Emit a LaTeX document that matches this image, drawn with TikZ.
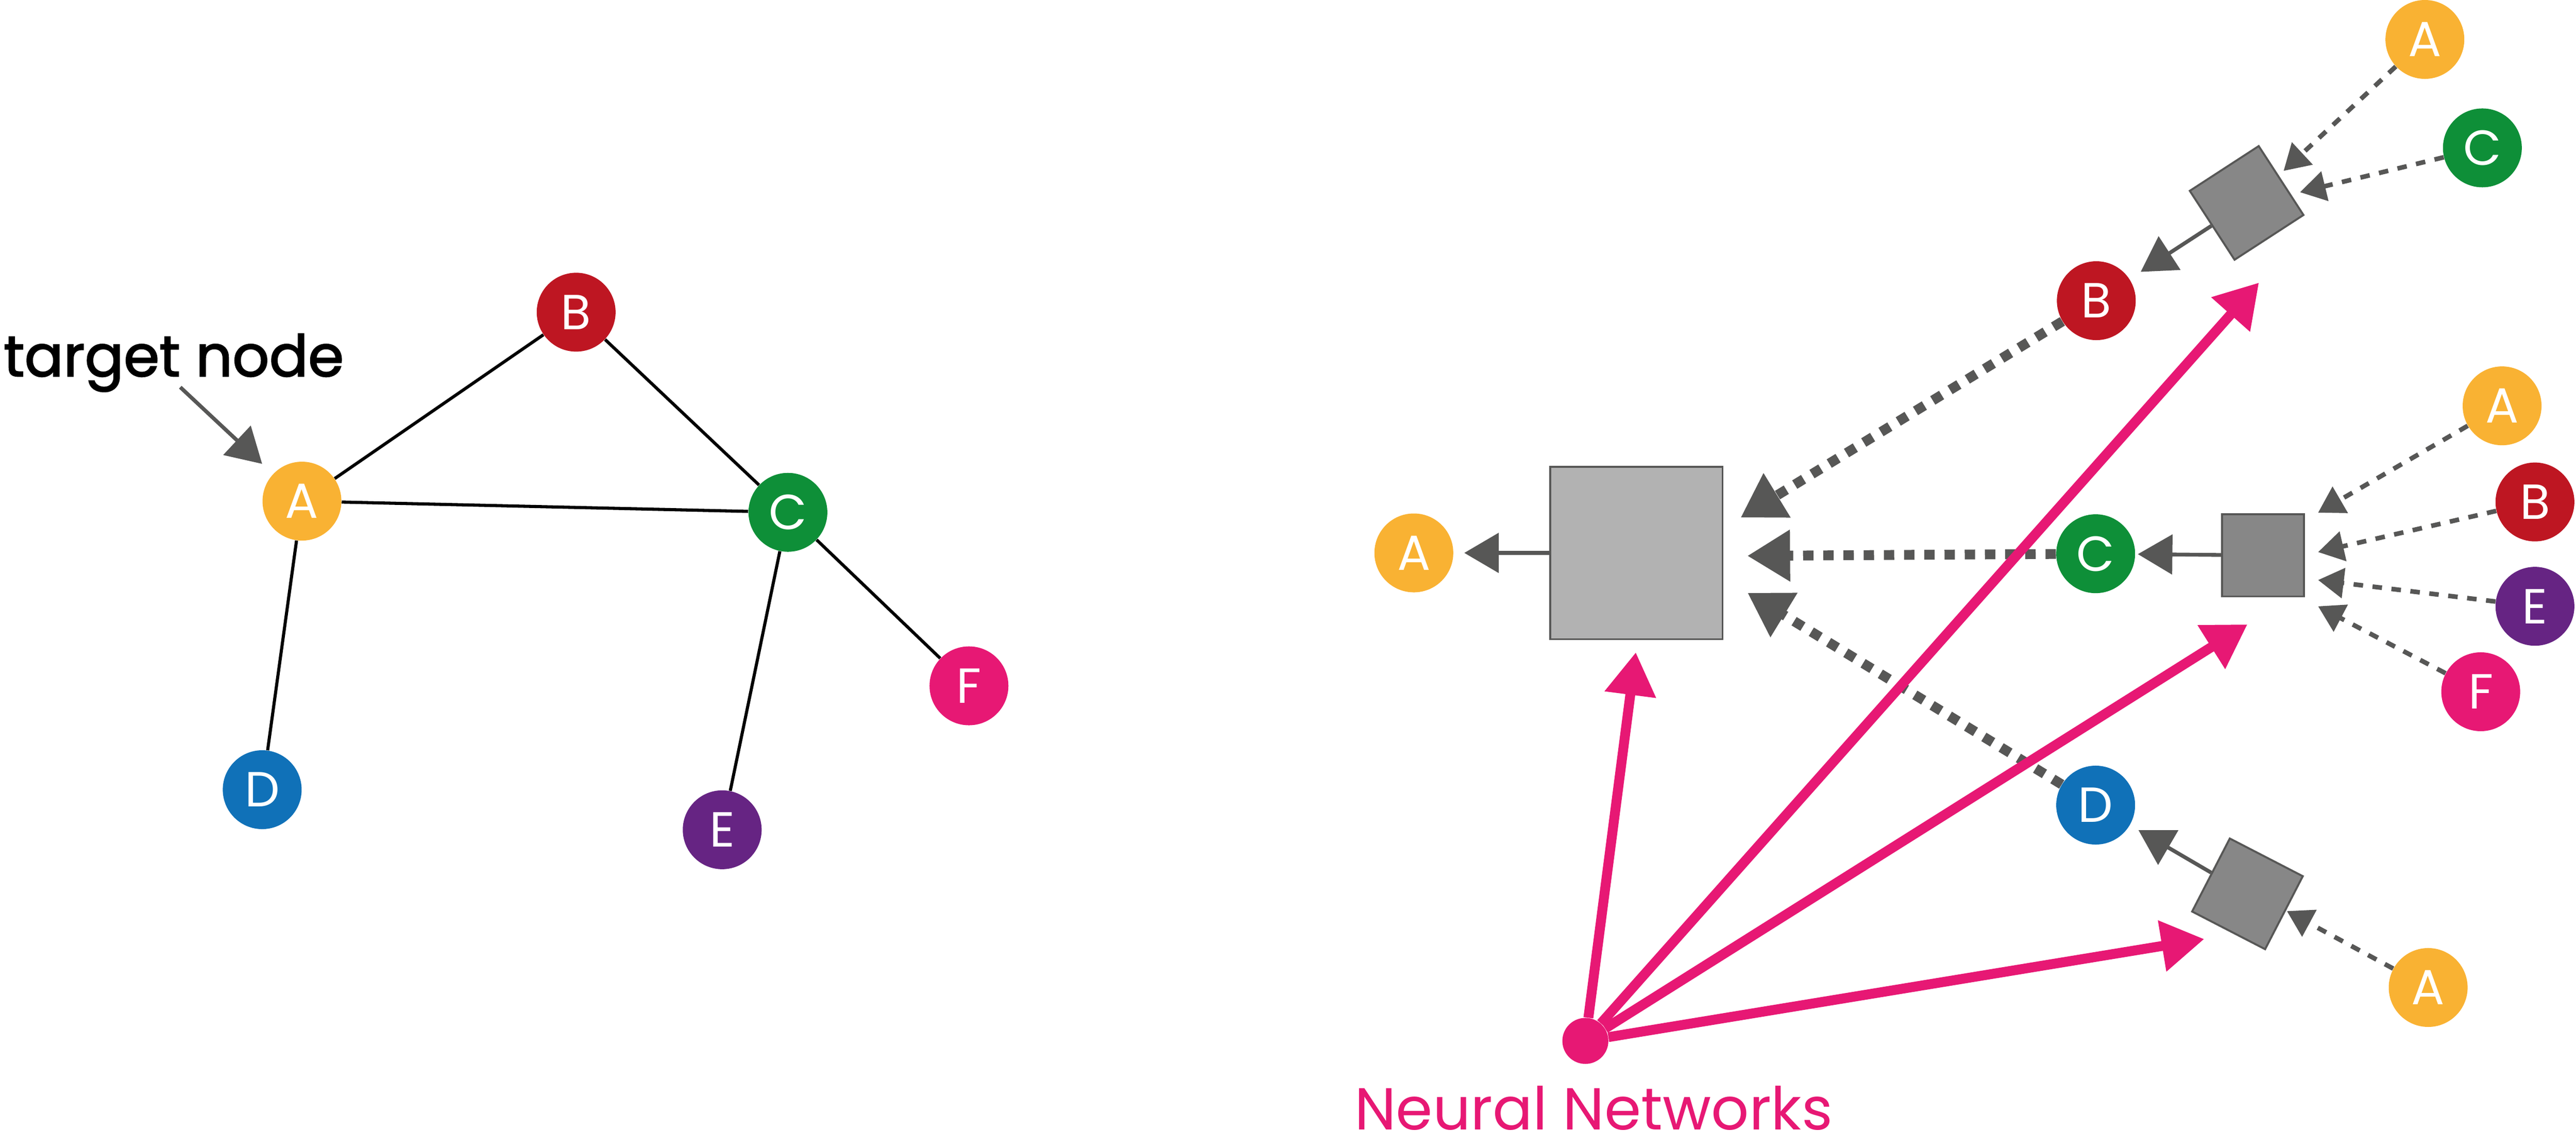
\documentclass[tikz,border=0pt]{standalone}
\usepackage{fontspec}
\setmainfont{Poppins}
\newfontfamily\heavyfont[FakeBold=2]{Poppins}
\usetikzlibrary{calc}
\usetikzlibrary{arrows.meta}

\definecolor{nodeA}{HTML}{F9B233}
\definecolor{nodeB}{HTML}{BE1622}
\definecolor{nodeC}{HTML}{0E8F38}
\definecolor{nodeD}{HTML}{1071B8}
\definecolor{nodeE}{HTML}{662483}
\definecolor{nnpink}{HTML}{E71874}
\definecolor{msggray}{HTML}{575756}
\definecolor{bigfill}{HTML}{B2B2B2}
\definecolor{smallfill}{HTML}{878787}

\begin{document}
\begin{tikzpicture}[x=1pt, y=-1pt, >={Triangle[length=21pt, width=24pt]}]
\tikzstyle{vertex}=[circle, inner sep=0pt, minimum size=48pt, text=white, font=\fontsize{30}{30}\selectfont]
\tikzstyle{aggbig}=[draw=msggray, fill=bigfill, line width=1.2pt, minimum size=105pt, inner sep=0pt]
\tikzstyle{aggsmall}=[draw=msggray, fill=smallfill, line width=1.2pt, minimum size=50pt, inner sep=0pt]
\tikzstyle{msg}=[line width=2.3pt, color=msggray, ->]
\tikzstyle{thickmsg}=[line width=6pt, color=msggray, dash pattern=on 6.3pt off 6pt, -{Triangle[length=26pt, width=30pt]}]
\tikzstyle{thinmsg}=[line width=2.8pt, color=msggray, dash pattern=on 5.8pt off 5.8pt, -{Triangle[length=15.6pt, width=18pt]}]
\tikzstyle{nnarrow}=[line width=6pt, color=nnpink, -{Triangle[length=26pt, width=30pt]}]
\useasboundingbox (0,0) rectangle (1568,698);

% input graph
\node[vertex, fill=nodeA] (A) at (183.8,305) {A};
\node[vertex, fill=nodeB] (B) at (350.7,190) {B};
\node[vertex, fill=nodeC] (C) at (479.6,311.8) {C};
\node[vertex, fill=nodeD] (D) at (159.6,480.6) {D};
\node[vertex, fill=nodeE] (E) at (439.6,505) {E};
\node[vertex, fill=nnpink] (F) at (589.8,417.4) {F};
\node[anchor=base west, inner sep=0pt, font=\heavyfont\fontsize{35}{35}\selectfont] (target) at (2,229) {target node};

\draw[line width=1.9pt] (A) -- (B) (B) -- (C) (A) -- (C) (A) -- (D) (C) -- (E) (C) -- (F);
\draw[msg, shorten >=9pt] ($(target.south)+(4,-3)$) -- (A);

% computation graph
\node[vertex, fill=nodeA] (out) at (860.6,336.5) {A};
\node[aggbig] (agg) at (996,336.5) {};
\node[vertex, fill=nodeB] (hB) at (1276,183) {B};
\node[vertex, fill=nodeC] (hC) at (1275.6,337) {C};
\node[vertex, fill=nodeD] (hD) at (1275.6,490) {D};

\node[aggsmall, rotate=33] (aggB) at (1367.5,123.5) {};
\node[aggsmall] (aggC) at (1377.5,338) {};
\node[aggsmall, rotate=-27.3] (aggD) at (1368,544) {};

\node[vertex, fill=nodeA] (topA) at (1476,24) {A};
\node[vertex, fill=nodeC] (topC) at (1511,90) {C};
\node[vertex, fill=nodeA] (midA) at (1523,247) {A};
\node[vertex, fill=nodeB] (midB) at (1543,305.5) {B};
\node[vertex, fill=nodeE] (midE) at (1543,369) {E};
\node[vertex, fill=nnpink] (midF) at (1510,421) {F};
\node[vertex, fill=nodeA] (lowA) at (1478,601) {A};

\node[circle, fill=nnpink, minimum size=28pt, inner sep=0pt] (nn) at (965,633.5) {};
\node[anchor=base, inner sep=0pt, text=nnpink, font=\fontsize{36}{36}\selectfont] (nnlabel) at (970,687.5) {Neural Networks};

\coordinate (inB) at (1059.5,315);
\coordinate (inC) at (1063.6,338.3);
\coordinate (inD) at (1063.7,360.8);
\coordinate (topinA) at (1390,104);
\coordinate (topinC) at (1400,117);
\coordinate (midinA) at (1411,312);
\coordinate (midinB) at (1411,336);
\coordinate (midinE) at (1411,353);
\coordinate (midinF) at (1411,369);
\coordinate (lowinA) at (1392,554.5);
\coordinate (nnagg) at (995.7,397);
\coordinate (nnB) at (1375,172);
\coordinate (nnC) at (1368,380);
\coordinate (nnD) at (1341.7,571.5);

\draw[msg, shorten >=6.5pt] (agg) -- (out);
\draw[msg, shorten >=8pt] (aggB) -- (hB);
\draw[msg, shorten >=1.5pt] (aggC) -- (hC);
\draw[msg, shorten >=6pt] (aggD) -- (hD);

\draw[thickmsg] (hB) -- (inB);
\draw[thickmsg] (hC) -- (inC);
\draw[thickmsg] (hD) -- (inD);

\draw[thinmsg] (topA) -- (topinA);
\draw[thinmsg] (topC) -- (topinC);
\draw[thinmsg] (midA) -- (midinA);
\draw[thinmsg] (midB) -- (midinB);
\draw[thinmsg] (midE) -- (midinE);
\draw[thinmsg] (midF) -- (midinF);
\draw[thinmsg] (lowA) -- (lowinA);

% neural network messages
\draw[nnarrow] (nn) -- (nnagg);
\draw[nnarrow] (nn) -- (nnB);
\draw[nnarrow] (nn) -- (nnC);
\draw[nnarrow] (nn) -- (nnD);
\end{tikzpicture}
\end{document}
